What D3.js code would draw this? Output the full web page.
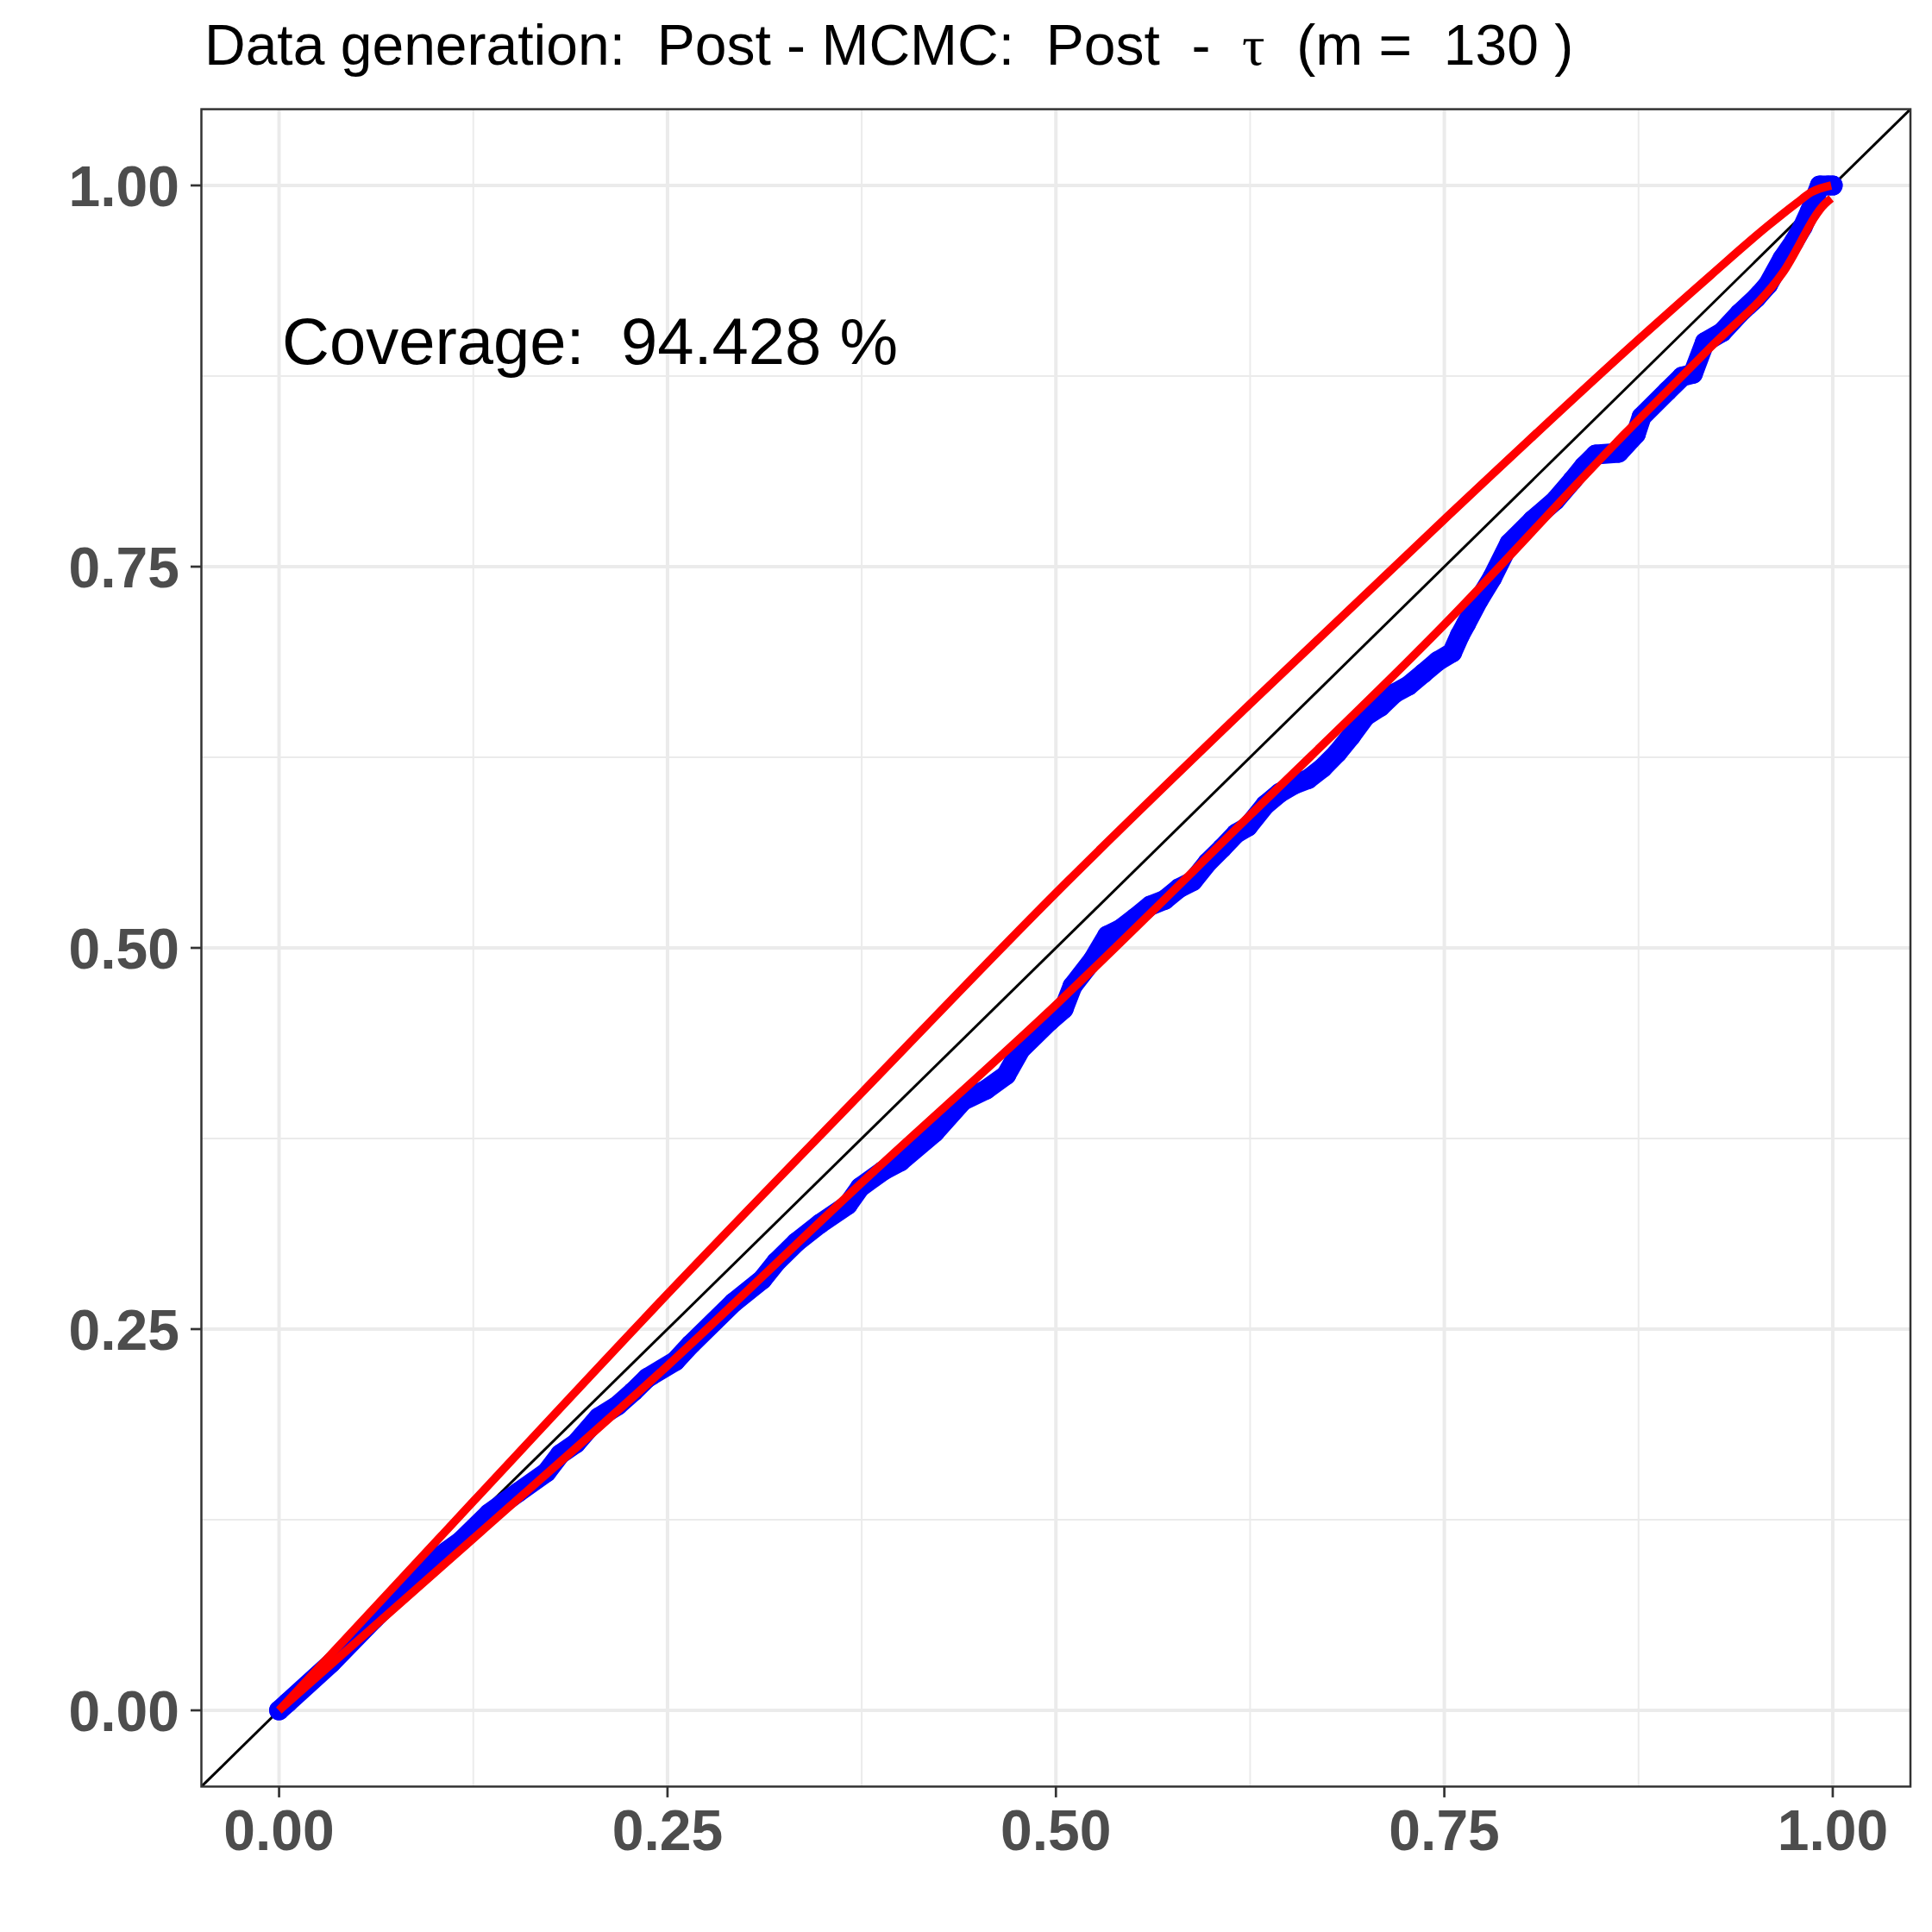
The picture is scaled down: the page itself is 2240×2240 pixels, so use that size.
<!DOCTYPE html>
<html>
<head>
<meta charset="utf-8">
<script src="https://cdn.jsdelivr.net/npm/d3@7"></script>
<style>
  html, body { margin: 0; padding: 0; background: #ffffff; }
  text { white-space: pre; }
</style>
</head>
<body>
<div id="chart"></div>
<script>
var ppX = [0.000, 0.0055, 0.0335, 0.0612, 0.098, 0.117, 0.135, 0.154, 0.172, 0.181,
    0.191, 0.2055, 0.218, 0.228, 0.237, 0.255, 0.265, 0.2925, 0.311, 0.320,
    0.333, 0.348, 0.366, 0.374, 0.389, 0.400, 0.422, 0.440, 0.455, 0.468,
    0.4774, 0.496, 0.505, 0.5107, 0.5237, 0.533, 0.542, 0.5514, 0.5607, 0.570,
    0.579, 0.588, 0.5977, 0.607, 0.616, 0.6236, 0.6347, 0.644, 0.653, 0.6624,
    0.6716, 0.681, 0.690, 0.6994, 0.7087, 0.718, 0.727, 0.7364, 0.7457, 0.755,
    0.760, 0.764, 0.772, 0.7808, 0.7919, 0.8067, 0.8215, 0.8326, 0.840, 0.8474,
    0.8622, 0.8733, 0.877, 0.8936, 0.903, 0.910, 0.9177, 0.9288, 0.940, 0.951,
    0.9584, 0.9676, 0.975, 0.9806, 0.9852, 0.9917, 0.9972, 1.000];
var ppY = [0.000, 0.005, 0.031, 0.060, 0.097, 0.111, 0.129, 0.143, 0.156, 0.168,
    0.175, 0.192, 0.200, 0.209, 0.218, 0.229, 0.240, 0.2674, 0.2825, 0.294,
    0.307, 0.319, 0.3315, 0.343, 0.354, 0.360, 0.379, 0.3996, 0.407, 0.4166,
    0.4336, 0.452, 0.460, 0.475, 0.492, 0.508, 0.5126, 0.520, 0.5277, 0.5315,
    0.539, 0.5437, 0.556, 0.5654, 0.575, 0.5796, 0.5937, 0.6016, 0.607, 0.6107,
    0.618, 0.6277, 0.639, 0.652, 0.658, 0.667, 0.672, 0.680, 0.688, 0.6936,
    0.705, 0.7125, 0.728, 0.7427, 0.7653, 0.7804, 0.7935, 0.8067, 0.816, 0.8235,
    0.8247, 0.837, 0.8483, 0.8652, 0.8746, 0.8765, 0.8972, 0.9038, 0.9161, 0.9265,
    0.935, 0.952, 0.963, 0.9727, 0.983, 1.000, 1.000, 1.000];

// red bands
var upperX = [0.000, 0.125, 0.250, 0.375, 0.500, 0.625, 0.750, 0.875, 0.9214, 0.9584, 0.9769, 0.9861, 0.999];
var upperY = [0.000, 0.137, 0.273, 0.405, 0.536, 0.660, 0.781, 0.899, 0.941, 0.9736, 0.9885, 0.9955, 1.000];
var lowerX = [0.000, 0.125, 0.250, 0.375, 0.500, 0.625, 0.750, 0.866, 0.921, 0.968, 0.995, 0.999];
var lowerY = [0.000, 0.1126, 0.226, 0.346, 0.4627, 0.587, 0.712, 0.837, 0.8935, 0.943, 0.988, 0.9915];

var majorTicks = [0, 0.25, 0.5, 0.75, 1];
var minorTicks = [0.125, 0.375, 0.625, 0.875];
var tickLabels = ['0.00', '0.25', '0.50', '0.75', '1.00'];

var titleParts = ['Data generation:  Post - MCMC:  Post  -  ', '\u03c4', '  (m =  130 )'];
var coverageLabel = 'Coverage:  94.428 %';

(function() {
    var W = 2240, H = 2240;
    var sans = '"Liberation Sans", Arial, Helvetica, sans-serif';
    var ptR = 11.5;

    var svg = d3.select('#chart').append('svg')
        .attr('width', W)
        .attr('height', H)
        .style('display', 'block');

    svg.append('rect').attr('width', W).attr('height', H).attr('fill', '#ffffff');

    var x = d3.scaleLinear().domain([-0.05, 1.05]).range([233.5, 2215]);
    var y = d3.scaleLinear().domain([-0.05, 1.05]).range([2071.4, 126.6]);

    var pLeft = x(-0.05), pRight = x(1.05), pTop = y(1.05), pBottom = y(-0.05);

    svg.append('clipPath').attr('id', 'panel')
        .append('rect')
        .attr('x', pLeft).attr('y', pTop)
        .attr('width', pRight - pLeft).attr('height', pBottom - pTop);

    var grid = svg.append('g');

    // minor grid
    grid.selectAll('.vminor').data(minorTicks).enter().append('line')
        .attr('x1', function(d) { return x(d); }).attr('x2', function(d) { return x(d); })
        .attr('y1', pTop).attr('y2', pBottom)
        .attr('stroke', '#ebebeb').attr('stroke-width', 2);
    grid.selectAll('.hminor').data(minorTicks).enter().append('line')
        .attr('y1', function(d) { return y(d); }).attr('y2', function(d) { return y(d); })
        .attr('x1', pLeft).attr('x2', pRight)
        .attr('stroke', '#ebebeb').attr('stroke-width', 2);

    // major grid
    grid.selectAll('.vmajor').data(majorTicks).enter().append('line')
        .attr('x1', function(d) { return x(d); }).attr('x2', function(d) { return x(d); })
        .attr('y1', pTop).attr('y2', pBottom)
        .attr('stroke', '#ebebeb').attr('stroke-width', 4);
    grid.selectAll('.hmajor').data(majorTicks).enter().append('line')
        .attr('y1', function(d) { return y(d); }).attr('y2', function(d) { return y(d); })
        .attr('x1', pLeft).attr('x2', pRight)
        .attr('stroke', '#ebebeb').attr('stroke-width', 4);

    var plot = svg.append('g').attr('clip-path', 'url(#panel)');

    // y = x reference line across the whole panel
    plot.append('line')
        .attr('x1', x(-0.05)).attr('y1', y(-0.05))
        .attr('x2', x(1.05)).attr('y2', y(1.05))
        .attr('stroke', '#000000').attr('stroke-width', 3);

    var pts = ppX.map(function(d, i) { return {x: d, y: ppY[i]}; });

    var line = d3.line()
        .x(function(d) { return x(d.x); })
        .y(function(d) { return y(d.y); });

    plot.append('path')
        .attr('d', line(pts))
        .attr('fill', 'none')
        .attr('stroke', '#0000ff')
        .attr('stroke-width', ptR * 2)
        .attr('stroke-linejoin', 'round')
        .attr('stroke-linecap', 'round');

    plot.selectAll('.pt').data(pts).enter().append('circle')
        .attr('cx', function(d) { return x(d.x); })
        .attr('cy', function(d) { return y(d.y); })
        .attr('r', ptR)
        .attr('fill', '#0000ff');

    var smooth = d3.line()
        .x(function(d) { return x(d.x); })
        .y(function(d) { return y(d.y); })
        .curve(d3.curveMonotoneX);

    var bands = [
        upperX.map(function(d, i) { return {x: d, y: upperY[i]}; }),
        lowerX.map(function(d, i) { return {x: d, y: lowerY[i]}; })
    ];

    plot.selectAll('.band').data(bands).enter().append('path')
        .attr('d', function(d) { return smooth(d); })
        .attr('fill', 'none')
        .attr('stroke', '#ff0000')
        .attr('stroke-width', 9.5)
        .attr('stroke-linejoin', 'round');

    // panel border
    svg.append('rect')
        .attr('x', pLeft).attr('y', pTop)
        .attr('width', pRight - pLeft).attr('height', pBottom - pTop)
        .attr('fill', 'none')
        .attr('stroke', '#333333')
        .attr('stroke-width', 2.5);

    // ticks
    svg.selectAll('.xtick').data(majorTicks).enter().append('line')
        .attr('x1', function(d) { return x(d); }).attr('x2', function(d) { return x(d); })
        .attr('y1', pBottom).attr('y2', pBottom + 12.5)
        .attr('stroke', '#333333').attr('stroke-width', 2.7);
    svg.selectAll('.ytick').data(majorTicks).enter().append('line')
        .attr('y1', function(d) { return y(d); }).attr('y2', function(d) { return y(d); })
        .attr('x1', pLeft).attr('x2', pLeft - 12.5)
        .attr('stroke', '#333333').attr('stroke-width', 2.7);

    svg.selectAll('.xlab').data(majorTicks).enter().append('text')
        .attr('x', function(d) { return x(d); })
        .attr('y', 2145)
        .attr('text-anchor', 'middle')
        .style('font-family', sans).style('font-size', '66px').style('font-weight', 'bold')
        .attr('fill', '#4d4d4d')
        .text(function(d, i) { return tickLabels[i]; });

    svg.selectAll('.ylab').data(majorTicks).enter().append('text')
        .attr('x', 208)
        .attr('y', function(d) { return y(d) + 24; })
        .attr('text-anchor', 'end')
        .style('font-family', sans).style('font-size', '66px').style('font-weight', 'bold')
        .attr('fill', '#4d4d4d')
        .text(function(d, i) { return tickLabels[i]; });

    // annotation
    svg.append('text')
        .attr('x', 327)
        .attr('y', 422)
        .style('font-family', sans).style('font-size', '76px')
        .attr('fill', '#000000')
        .text(coverageLabel);

    // title
    var title = svg.append('text')
        .attr('x', 237)
        .attr('y', 75)
        .style('font-family', sans).style('font-size', '66px')
        .attr('fill', '#000000');
    title.append('tspan').text(titleParts[0]);
    title.append('tspan').style('font-family', '"Liberation Serif", "DejaVu Serif", serif').text(titleParts[1]);
    title.append('tspan').text(titleParts[2]);
})();
</script>
</body>
</html>
